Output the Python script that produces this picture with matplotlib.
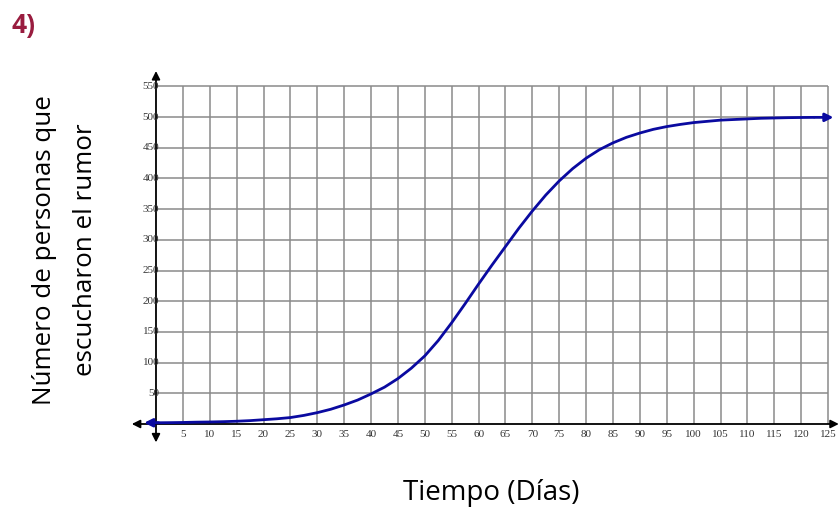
import matplotlib
matplotlib.use("Agg")
import matplotlib.pyplot as plt
import numpy as np

# Data
days = [0, 2.5, 5, 7.5, 10, 12.5, 15, 17.5, 20, 22.5, 25, 27.5, 30, 32.5, 35, 37.5,
        40, 42.5, 45, 47.5, 50, 52.5, 55, 57.5, 60, 62.5, 65, 67.5, 70, 72.5, 75,
        77.5, 80, 82.5, 85, 87.5, 90, 92.5, 95, 97.5, 100, 102.5, 105, 107.5, 110,
        112.5, 115, 117.5, 120, 122.5]
people = [2, 2.2, 2.5, 3, 3.3, 3.8, 4.5, 5.5, 7, 8.5, 10.5, 14, 18.5, 24, 31, 39,
          49, 60, 74, 91, 111, 136, 165, 196, 228, 259, 289, 319, 347, 373, 396,
          416, 433, 447, 458, 467, 474, 480, 484.5, 488, 491, 493, 495, 496, 497,
          498, 498.5, 499, 499.3, 499.5]
x_ticks = list(range(5, 130, 5))
y_ticks = list(range(50, 600, 50))

fig = plt.figure(figsize=(8.4, 5.08), dpi=100)
ax = fig.add_axes([0.1569, 0.1291, 0.8417, 0.7311])
ax.set_xlim(-4.5, 127)
ax.set_ylim(-30, 575)
ax.axis("off")

# grid
ax.vlines(x_ticks, 0, 550, colors="#8a8a8a", linewidth=1.1, zorder=1)
ax.hlines(y_ticks, 0, 125, colors="#8a8a8a", linewidth=1.1, zorder=1)

# axes with arrows
arrow_kw = dict(arrowstyle="<|-|>", color="black", lw=1.3, mutation_scale=12, shrinkA=0, shrinkB=0)
ax.annotate("", xy=(127, 0), xytext=(-4.5, 0), arrowprops=arrow_kw, zorder=3)
ax.annotate("", xy=(0, 575), xytext=(0, -30), arrowprops=arrow_kw, zorder=3)

# tick labels
for t in x_ticks:
    ax.text(t, -9, str(t), ha="center", va="top", fontsize=8,
            family="Liberation Serif", color="#333333")
for t in y_ticks:
    ax.text(0.6, t, str(t), ha="right", va="center", fontsize=8,
            family="Liberation Serif", color="#333333")

# curve
curve_color = "#0A0AA0"
x = np.array(days, dtype=float)
y = np.array(people, dtype=float)
ax.plot(x, y, color=curve_color, lw=2.0, zorder=4, solid_capstyle="butt",
        solid_joinstyle="round")
ax.annotate("", xy=(-2.2, people[0]), xytext=(0.5, people[0]),
            arrowprops=dict(arrowstyle="-|>", color=curve_color, lw=2.0, mutation_scale=12,
                            shrinkA=0, shrinkB=0), zorder=5)
ax.annotate("", xy=(126, people[-1]), xytext=(days[-1], people[-1]),
            arrowprops=dict(arrowstyle="-|>", color=curve_color, lw=2.0, mutation_scale=12,
                            shrinkA=0, shrinkB=0), zorder=5)

# labels
fig.text(23 / 840, 1 - 25 / 508, "4)", ha="center", va="center", fontsize=19,
         fontweight="bold", color="#991C3F", family="Open Sans")
fig.text(65 / 840, 1 - 250 / 508, "Número de personas que\nescucharon el rumor",
         rotation=90, ha="center", va="center", fontsize=18.7, family="Open Sans",
         linespacing=1.85, color="black")
fig.text(491 / 840, 1 - 493 / 508, "Tiempo (Días)", ha="center", va="center",
         fontsize=20, family="Open Sans", color="black")

fig.savefig("out.png", dpi=100)
